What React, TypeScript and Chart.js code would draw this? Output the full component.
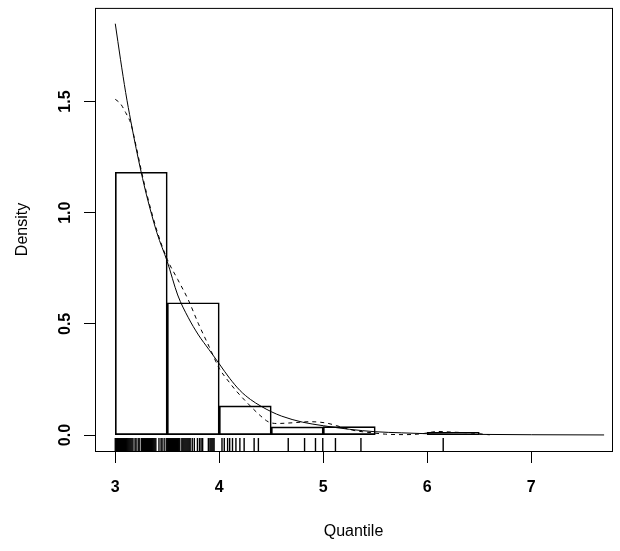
import React, { useEffect, useRef } from 'react';
import { Chart, registerables } from 'chart.js';

Chart.register(...registerables);

// ---- data ----
const X_TICKS = [3, 4, 5, 6, 7];
const Y_TICKS = [0, 0.5, 1, 1.5];
const Y_TICK_LABELS = ['0.0', '0.5', '1.0', '1.5'];
const X_LIMITS = [2.805, 7.776];
const Y_LIMITS = [-0.0717, 1.921];

const HIST_BREAKS = [3, 3.5, 4, 4.5, 5, 5.5, 6, 6.5];
const HIST_DENSITY = [1.182, 0.595, 0.131, 0.037, 0.038, 0, 0.012];

// fitted density (solid)
const FIT_X = [3.0, 3.05, 3.1, 3.15, 3.2, 3.25, 3.3, 3.4, 3.5, 3.6, 3.7, 3.8, 3.9, 4.0, 4.1, 4.2, 4.3, 4.4, 4.5, 4.6, 4.8, 5.0, 5.25, 5.5, 5.75, 6.0, 6.5, 7.0, 7.7];
const FIT_Y = [1.85, 1.69, 1.54, 1.41, 1.29, 1.18, 1.08, 0.91, 0.78, 0.63, 0.53, 0.45, 0.385, 0.32, 0.255, 0.2, 0.16, 0.13, 0.105, 0.085, 0.058, 0.042, 0.026, 0.015, 0.01, 0.006, 0.003, 0.0015, 0.0005];

// kernel density (dashed)
const KDE_X = [3.0, 3.05, 3.1, 3.15, 3.2, 3.25, 3.3, 3.4, 3.5, 3.6, 3.7, 3.8, 3.9, 4.0, 4.1, 4.16, 4.3, 4.4, 4.47, 4.55, 4.7, 4.87, 5.03, 5.13, 5.28, 5.47, 5.6, 5.8, 5.95, 6.1, 6.25, 6.4, 6.5, 6.6];
const KDE_Y = [1.51, 1.49, 1.45, 1.4, 1.3, 1.19, 1.09, 0.92, 0.79, 0.7, 0.61, 0.5, 0.4, 0.3, 0.235, 0.2, 0.13, 0.085, 0.06, 0.052, 0.055, 0.06, 0.054, 0.042, 0.022, 0.01, 0.004, 0.002, 0.006, 0.016, 0.013, 0.01, 0.006, 0.001];

// observations (rug)
const RUG = [
  3.0, 3.01, 3.02, 3.03, 3.04, 3.05, 3.06, 3.07, 3.08, 3.09, 3.1, 3.11, 3.12, 3.13, 3.14, 3.15, 3.16, 3.17,
  3.19, 3.2, 3.22, 3.23, 3.25, 3.26, 3.27, 3.28, 3.29, 3.3, 3.31, 3.32, 3.33, 3.34, 3.35, 3.36, 3.37, 3.38, 3.39,
  3.42, 3.44, 3.45, 3.47, 3.49, 3.5, 3.51, 3.52, 3.53, 3.54, 3.55, 3.56, 3.57, 3.58, 3.59, 3.6, 3.61, 3.62,
  3.64, 3.65, 3.66, 3.67, 3.68, 3.69, 3.7, 3.71, 3.72, 3.74, 3.76, 3.79, 3.81, 3.825, 3.84,
  3.895, 3.91, 3.92, 3.93, 3.94, 3.95, 4.026, 4.048, 4.08, 4.1, 4.127, 4.16, 4.198, 4.239, 4.335, 4.376,
  4.663, 4.82, 4.925, 4.995, 5.117, 5.362, 6.153,
];

const FONT = "'Liberation Sans', Arial, Helvetica, sans-serif";

export default function App() {
  const ref = useRef<HTMLCanvasElement | null>(null);

  useEffect(() => {
    const canvas = ref.current;
    if (!canvas) return;

    const mids = HIST_DENSITY.map((_, i) => (HIST_BREAKS[i] + HIST_BREAKS[i + 1]) / 2);
    const rugY = Y_LIMITS[0] + (Y_LIMITS[1] - Y_LIMITS[0]) * 0.0146;

    const boxPlugin = {
      id: 'rbox',
      afterDraw(chart: any) {
        const { ctx, chartArea: a } = chart;
        ctx.save();
        ctx.strokeStyle = '#000';
        ctx.lineWidth = 1;
        ctx.strokeRect(a.left + 0.5, a.top + 0.5, a.right - a.left, a.bottom - a.top);
        ctx.restore();
      },
    };

    const chart = new Chart(canvas, {
      type: 'scatter',
      data: {
        datasets: [
          {
            type: 'line',
            data: FIT_X.map((x, i) => ({ x, y: FIT_Y[i] })),
            borderColor: '#000',
            borderWidth: 1,
            pointRadius: 0,
            cubicInterpolationMode: 'monotone',
            fill: false,
          } as any,
          {
            type: 'line',
            data: KDE_X.map((x, i) => ({ x, y: KDE_Y[i] })),
            borderColor: '#000',
            borderWidth: 1,
            borderDash: [4, 4],
            pointRadius: 0,
            cubicInterpolationMode: 'monotone',
            fill: false,
          } as any,
          {
            type: 'bar',
            data: mids.map((x, i) => ({ x, y: HIST_DENSITY[i] })),
            backgroundColor: 'rgba(0,0,0,0)',
            borderColor: '#000',
            borderWidth: 1,
            borderSkipped: false,
            barPercentage: 1,
            categoryPercentage: 1,
          } as any,
          {
            type: 'scatter',
            data: RUG.map((x) => ({ x, y: rugY })),
            pointStyle: 'line',
            rotation: 90,
            pointRadius: 6.5,
            borderColor: '#000',
            borderWidth: 1.4,
          } as any,
        ],
      },
      options: {
        responsive: false,
        animation: false,
        layout: { padding: { left: 0, top: 6, right: 8, bottom: 0 } },
        plugins: { legend: { display: false }, tooltip: { enabled: false } },
        scales: {
          x: {
            type: 'linear',
            position: 'bottom',
            min: X_LIMITS[0],
            max: X_LIMITS[1],
            offset: false,
            afterBuildTicks: (s: any) => {
              s.ticks = X_TICKS.map((v) => ({ value: v }));
            },
            afterFit: (s: any) => {
              s.height = 100;
              s.paddingLeft = 0;
              s.paddingRight = 0;
              s.paddingTop = 0;
              s.paddingBottom = 0;
            },
            grid: { display: true, offset: false, drawOnChartArea: false, drawTicks: true, tickLength: 12, color: '#000', lineWidth: 1 },
            border: { display: false },
            ticks: {
              color: '#000',
              padding: 15,
              autoSkip: false,
              maxRotation: 0,
              font: { family: FONT, size: 16, weight: 'bold' },
              callback: (v: any) => String(v),
            },
            title: {
              display: true,
              text: 'Quantile',
              color: '#000',
              font: { family: FONT, size: 16 },
              padding: { top: 0, bottom: 10 },
            },
          },
          y: {
            type: 'linear',
            position: 'left',
            min: Y_LIMITS[0],
            max: Y_LIMITS[1],
            afterBuildTicks: (s: any) => {
              s.ticks = Y_TICKS.map((v) => ({ value: v }));
            },
            afterFit: (s: any) => {
              s.width = 95;
              s.paddingLeft = 0;
              s.paddingRight = 0;
              s.paddingTop = 0;
              s.paddingBottom = 0;
            },
            grid: { display: true, offset: false, drawOnChartArea: false, drawTicks: true, tickLength: 11, color: '#000', lineWidth: 1 },
            border: { display: false },
            ticks: {
              color: '#000',
              padding: 7,
              autoSkip: false,
              minRotation: 90,
              maxRotation: 90,
              crossAlign: 'center',
              font: { family: FONT, size: 16, weight: 'bold' },
              callback: (_v: any, i: number) => Y_TICK_LABELS[i],
            },
            title: {
              display: true,
              text: 'Density',
              color: '#000',
              font: { family: FONT, size: 16 },
              padding: { top: 13, bottom: 0 },
            },
          },
        },
      } as any,
      plugins: [boxPlugin],
    });

    return () => chart.destroy();
  }, []);

  return (
    <div style={{ position: 'fixed', left: 0, top: 0, width: 620, height: 551, background: '#fff' }}>
      <canvas ref={ref} width={620} height={551} style={{ display: 'block' }} />
    </div>
  );
}
